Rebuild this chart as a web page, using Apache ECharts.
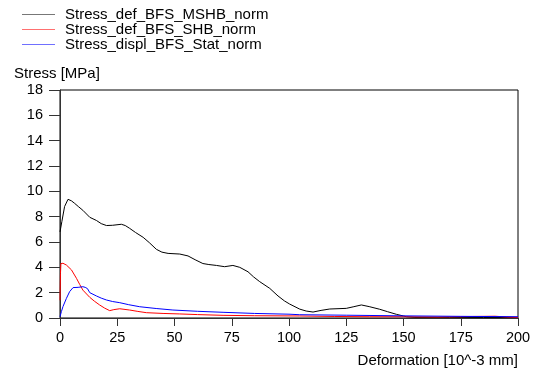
<!DOCTYPE html>
<html>
<head>
<meta charset="utf-8">
<script src="https://cdn.jsdelivr.net/npm/echarts@6/dist/echarts.min.js"></script>
<style>
  html, body { margin: 0; padding: 0; background: #fff; }
  #chart { width: 538px; height: 372px; }
</style>
</head>
<body>
<div id="chart"></div>
<script>
// values, [deformation, stress]
const mshbPoints = [
    [0, 6.8], [0.8, 7.6], [2, 8.8], [3.5, 9.37], [5, 9.25], [6.4, 9.05], [8, 8.8],
    [10, 8.5], [13, 7.95], [15.9, 7.7], [18, 7.45], [20.3, 7.3], [23, 7.32],
    [26.8, 7.4], [28.5, 7.3], [30.4, 7.08], [33, 6.75], [36.3, 6.37], [39, 5.95],
    [42.1, 5.42], [44.5, 5.2], [47.2, 5.1], [52.3, 5.05], [55.9, 4.9], [59, 4.6],
    [62.4, 4.3], [65, 4.22], [68.3, 4.15], [71.9, 4.05], [75.5, 4.15], [78.5, 4.0],
    [82.1, 3.65], [84.5, 3.25], [87.2, 2.87], [91.6, 2.34], [95.2, 1.74],
    [98, 1.35], [100.3, 1.1], [104.7, 0.7], [107.5, 0.55], [110.5, 0.47],
    [114, 0.6], [117.8, 0.71], [125, 0.76], [128, 0.88], [131.6, 1.03],
    [135, 0.9], [139.6, 0.69], [143, 0.5], [146.9, 0.29], [151.3, 0.1],
    [155, 0.05], [170, 0.05], [185, 0.04], [200, 0.04]
];
const shbPoints = [
    [0, 1.4], [0.2, 3.5], [0.4, 4.3], [1.3, 4.32], [2.8, 4.18], [5, 3.8],
    [7.2, 3.13], [8.6, 2.65], [10, 2.2], [13, 1.63], [15, 1.33], [17.3, 1.03],
    [19.5, 0.78], [21.7, 0.58], [23.5, 0.66], [26.1, 0.73], [30.4, 0.63],
    [34, 0.52], [37.7, 0.42], [45, 0.36], [52.3, 0.32], [60, 0.27], [71.2, 0.21],
    [85, 0.18], [104.7, 0.16], [120, 0.12], [135, 0.1], [150, 0.1], [165, 0.08],
    [180, 0.12], [190, 0.14], [195, 0.08], [200, 0.05]
];
const statPoints = [
    [0, 0.1], [0.6, 0.5], [1.3, 0.9], [2.8, 1.55], [4.2, 2.08], [5.7, 2.4],
    [7.9, 2.42], [10, 2.47], [11, 2.42], [12, 2.32], [13, 2.0], [15.9, 1.74],
    [18, 1.57], [20.3, 1.42], [23, 1.3], [26.1, 1.21], [30, 1.05], [34.8, 0.89],
    [42, 0.75], [49.3, 0.63], [60, 0.53], [71.2, 0.45], [85, 0.36], [100, 0.3],
    [104.7, 0.26], [125, 0.22], [150, 0.17], [175, 0.13], [200, 0.1]
];
const seriesNames = ['Stress_def_BFS_MSHB_norm', 'Stress_def_BFS_SHB_norm', 'Stress_displ_BFS_Stat_norm'];
const seriesColors = ['#000000', '#ff0000', '#0000ff'];
const legendColors = ['#777777', '#ff7070', '#7070ff'];

const font = 'Liberation Sans, Arial, sans-serif';
const chart = echarts.init(document.getElementById('chart'));

const lineSeries = [mshbPoints, shbPoints, statPoints].map((pts, i) => ({
    name: seriesNames[i],
    type: 'line',
    data: pts,
    symbol: 'none',
    lineStyle: { color: seriesColors[i], width: 1 },
    itemStyle: { color: legendColors[i] }
}));

chart.setOption({
    animation: false,
    textStyle: { fontFamily: font },
    legend: {
        orient: 'vertical',
        left: 17,
        top: 2,
        icon: 'rect',
        itemWidth: 33,
        itemHeight: 1,
        itemGap: 0,
        data: seriesNames,
        textStyle: {
            fontSize: 15, color: '#000', lineHeight: 14,
            padding: [0, 0, 0, 5], fontFamily: font
        }
    },
    grid: {
        left: 60,
        right: 20,
        top: 90,
        bottom: 54,
        show: true,
        borderColor: '#000',
        borderWidth: 1
    },
    xAxis: {
        type: 'value',
        min: 0,
        max: 200,
        interval: 25,
        axisLine: { show: true, lineStyle: { color: '#333' } },
        axisTick: { show: true, inside: false, length: 8, lineStyle: { color: '#333' } },
        splitLine: { show: false },
        axisLabel: { margin: 12, fontSize: 14.5, color: '#000', fontFamily: font }
    },
    yAxis: {
        type: 'value',
        min: 0,
        max: 18,
        interval: 2,
        axisLine: { show: true, lineStyle: { color: '#333' } },
        axisTick: { show: true, inside: false, length: 11, lineStyle: { color: '#333' } },
        splitLine: { show: false },
        axisLabel: { margin: 17, fontSize: 14.5, color: '#000', fontFamily: font }
    },
    graphic: [
        {
            type: 'text',
            x: 14,
            y: 74,
            style: {
                text: 'Stress [MPa]', font: '15px ' + font, fill: '#000',
                align: 'left', verticalAlign: 'middle'
            }
        },
        {
            type: 'text',
            x: 518,
            y: 361,
            style: {
                text: 'Deformation [10^-3 mm]', font: '15px ' + font, fill: '#000',
                align: 'right', verticalAlign: 'middle'
            }
        }
    ],
    series: lineSeries
});
</script>
</body>
</html>
